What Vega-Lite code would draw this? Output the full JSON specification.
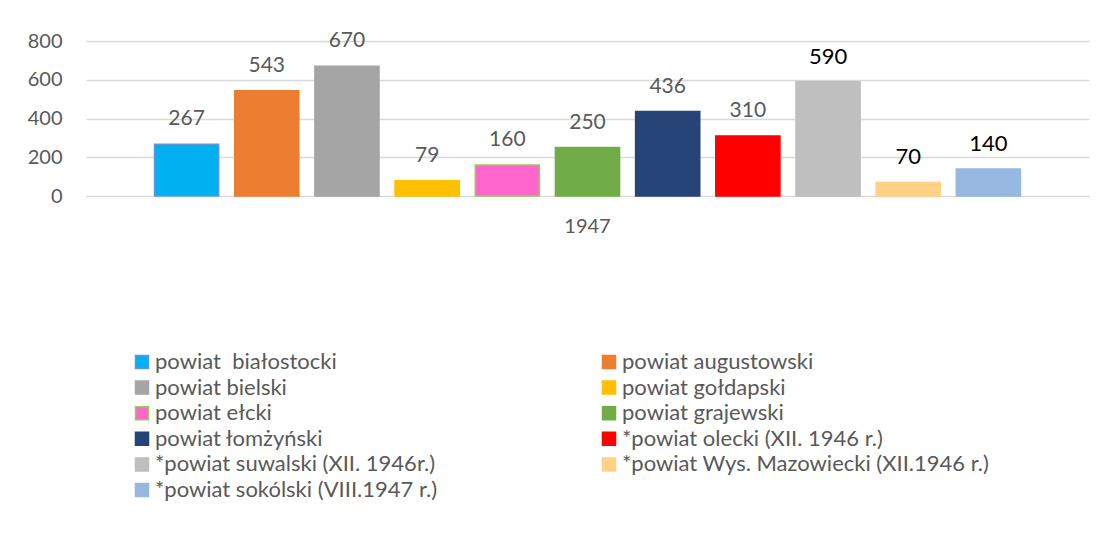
{
  "$schema": "https://vega.github.io/schema/vega-lite/v6.json",
  "autosize": "none",
  "width": 1003,
  "height": 155,
  "padding": {"left": 86, "top": 41, "right": 17, "bottom": 338},
  "background": "white",
  "config": {
    "font": "Lato",
    "view": {"stroke": null},
    "axis": {"labelFont": "Lato", "labelColor": "#595959", "domain": false, "ticks": false},
    "legend": {"labelFont": "Lato", "labelColor": "#595959"}
  },
  "data": {
    "values": [
      {"powiat": "powiat\u00a0 białostocki", "rok": "1947", "wartosc": 267},
      {"powiat": "powiat augustowski", "rok": "1947", "wartosc": 543},
      {"powiat": "powiat bielski", "rok": "1947", "wartosc": 670},
      {"powiat": "powiat gołdapski", "rok": "1947", "wartosc": 79},
      {"powiat": "powiat ełcki", "rok": "1947", "wartosc": 160},
      {"powiat": "powiat grajewski", "rok": "1947", "wartosc": 250},
      {"powiat": "powiat łomżyński", "rok": "1947", "wartosc": 436},
      {"powiat": "*powiat olecki (XII. 1946 r.)", "rok": "1947", "wartosc": 310},
      {"powiat": "*powiat suwalski (XII. 1946r.)", "rok": "1947", "wartosc": 590},
      {"powiat": "*powiat Wys. Mazowiecki (XII.1946 r.)", "rok": "1947", "wartosc": 70},
      {"powiat": "*powiat sokólski (VIII.1947 r.)", "rok": "1947", "wartosc": 140}
    ]
  },
  "encoding": {
    "x": {
      "field": "rok",
      "type": "nominal",
      "title": null,
      "scale": {"paddingInner": 0, "paddingOuter": 0.0686},
      "axis": {"labelAngle": 0, "labelFontSize": 20, "labelPadding": 20, "grid": false}
    },
    "xOffset": {
      "field": "powiat",
      "type": "nominal",
      "sort": null,
      "scale": {"paddingInner": 0.2, "paddingOuter": 0.1}
    },
    "y": {
      "field": "wartosc",
      "type": "quantitative",
      "title": null,
      "scale": {"domain": [0, 800]},
      "axis": {
        "values": [0, 200, 400, 600, 800],
        "labelFontSize": 20,
        "labelPadding": 24,
        "gridColor": "#D9D9D9",
        "gridWidth": 1.5
      }
    }
  },
  "layer": [
    {
      "mark": {"type": "bar", "strokeWidth": 1.5},
      "encoding": {
        "color": {
          "field": "powiat",
          "type": "nominal",
          "title": null,
          "scale": {
            "domain": [
              "powiat\u00a0 białostocki", "powiat bielski", "powiat ełcki", "powiat łomżyński",
              "*powiat suwalski (XII. 1946r.)", "*powiat sokólski (VIII.1947 r.)",
              "powiat augustowski", "powiat gołdapski", "powiat grajewski",
              "*powiat olecki (XII. 1946 r.)", "*powiat Wys. Mazowiecki (XII.1946 r.)"
            ],
            "range": ["#00B0F0", "#A5A5A5", "#FF66CC", "#264478", "#BFBFBF", "#97B9E0", "#ED7D31", "#FFC000", "#70AD47", "#FF0000", "#FFD285"]
          },
          "legend": {
            "orient": "none",
            "legendX": 45,
            "legendY": 310,
            "columns": 2,
            "columnPadding": 160,
            "rowPadding": 3.6,
            "symbolType": "square",
            "symbolSize": 169,
            "symbolStrokeWidth": 1.5,
            "labelFontSize": 22,
            "labelOffset": 2,
            "labelLimit": 500
          }
        },
        "stroke": {
          "field": "powiat",
          "type": "nominal",
          "title": null,
          "scale": {
            "domain": [
              "powiat\u00a0 białostocki", "powiat bielski", "powiat ełcki", "powiat łomżyński",
              "*powiat suwalski (XII. 1946r.)", "*powiat sokólski (VIII.1947 r.)",
              "powiat augustowski", "powiat gołdapski", "powiat grajewski",
              "*powiat olecki (XII. 1946 r.)", "*powiat Wys. Mazowiecki (XII.1946 r.)"
            ],
            "range": ["#5B9BD5", "#A5A5A5", "#92D050", "#264478", "#BFBFBF", "#97B9E0", "#ED7D31", "#FFC000", "#70AD47", "#FF0000", "#FFD285"]
          }
        }
      }
    },
    {
      "mark": {"type": "text", "baseline": "middle", "align": "center", "dy": -25},
      "encoding": {
        "text": {"field": "wartosc", "type": "quantitative"},
        "color": {
          "condition": {"test": "datum.wartosc === 590 || datum.wartosc === 70 || datum.wartosc === 140", "value": "#000000"},
          "value": "#595959"
        },
        "size": {
          "condition": {"test": "datum.wartosc === 590 || datum.wartosc === 70 || datum.wartosc === 140", "value": 22},
          "value": 21
        }
      }
    }
  ]
}
